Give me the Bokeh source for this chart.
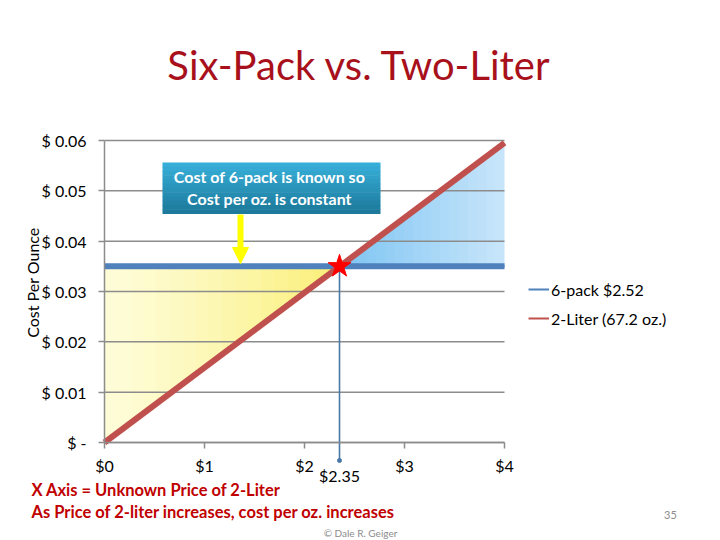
import math
from bokeh.plotting import figure
from bokeh.models import (Range1d, FixedTicker, CustomJSTickFormatter, Label,
                          BoxAnnotation, Arrow, NormalHead, Legend, LegendItem)
from bokeh.embed import file_html
from bokeh.resources import INLINE

# ---- data ----
price_range = [0, 4]                       # unknown price of 2-liter ($)
sixpack_price = 2.52
sixpack_oz = 72.0
twoliter_oz = 67.2
breakeven_label = 2.35
x_ticks = [0, 1, 2, 3, 4]
y_ticks = [0, 0.01, 0.02, 0.03, 0.04, 0.05, 0.06]

sixpack_cost = sixpack_price / sixpack_oz           # constant cost per oz
twoliter_cost = [p / twoliter_oz for p in price_range]
x_cross = sixpack_cost * twoliter_oz                 # break-even price

FONT = "Lato"
W, H = 720, 540
# plot-area placement on the canvas (pixels)
PX0, PX1 = 104, 504      # x = 0 .. 4
PY0, PY1 = 442, 140      # y = 0 .. 0.06
xpp = (x_ticks[-1] - x_ticks[0]) / (PX1 - PX0)
ypp = (y_ticks[-1] - y_ticks[0]) / (PY0 - PY1)

p = figure(width=W, height=H, output_backend="svg", toolbar_location=None,
           x_range=Range1d(x_ticks[0] - PX0 * xpp, x_ticks[0] + (W - PX0) * xpp),
           y_range=Range1d(y_ticks[0] - (H - PY0) * ypp, y_ticks[0] + PY0 * ypp),
           min_border=0)
p.outline_line_color = None
p.background_fill_color = "white"
p.border_fill_color = "white"

def sx(px):
    return px

def sy(py):
    return H - py

def blend(c1, c2, t):
    return "#%02x%02x%02x" % tuple(int(round(a + (b - a) * t)) for a, b in zip(c1, c2))

# ---- gradient-like fills ----
N = 18
ax, ay = x_cross, sixpack_cost
for i in range(N):
    s = 1.0 - i / N
    t = (i / (N - 1)) ** 1.3
    c = blend((0xfe, 0xfc, 0xd6), (0xfa, 0xef, 0x78), t)
    xs = [ax + (0 - ax) * s, ax + (0 - ax) * s, ax]
    ys = [ay + (0 - ay) * s, ay, ay]
    p.patch(xs, ys, fill_color=c, line_color=None)

x_end = price_range[1]
y_end = twoliter_cost[1]
for i in range(N):
    s = 1.0 - i / N
    t = i / (N - 1)
    c = blend((0xc6, 0xe5, 0xfa), (0x80, 0xc5, 0xf3), t)
    xs = [ax, ax + (x_end - ax) * s, ax + (x_end - ax) * s]
    ys = [ay, ay + (y_end - ay) * s, ay]
    p.patch(xs, ys, fill_color=c, line_color=None)

# ---- horizontal gridlines limited to the plot area ----
p.xgrid.grid_line_color = None
p.ygrid.grid_line_color = None
p.segment(x0=[x_ticks[0]] * len(y_ticks), y0=y_ticks,
          x1=[x_ticks[-1]] * len(y_ticks), y1=y_ticks,
          line_color="#8c8c8c", line_width=1.5)

# ---- legend proxies (hidden under the main lines) ----
leg_blue = p.line(price_range, [sixpack_cost, sixpack_cost], line_color="#4f81bd", line_width=2)
leg_red = p.line(price_range, twoliter_cost, line_color="#c0504d", line_width=2)

# ---- lines ----
p.line(price_range, [sixpack_cost, sixpack_cost], line_color="#4f81bd", line_width=6)
p.line(price_range, twoliter_cost, line_color="#c0504d", line_width=6)

# vertical pointer to break-even price
y_drop = -18 * ypp
p.segment(x0=[breakeven_label], y0=[sixpack_cost], x1=[breakeven_label], y1=[y_drop],
          line_color="#4a78a8", line_width=1.6)
p.scatter(x=[breakeven_label], y=[y_drop], size=4, color="#4a78a8")
p.scatter(x=[breakeven_label], y=[sixpack_cost], marker="star", size=24,
          fill_color="#ff0000", line_color="#ff0000")

# ---- axes ----
p.xaxis.ticker = FixedTicker(ticks=x_ticks)
p.xaxis.formatter = CustomJSTickFormatter(code="return '$' + tick.toFixed(0);")
p.yaxis.ticker = FixedTicker(ticks=y_ticks)
p.yaxis.formatter = CustomJSTickFormatter(
    code="return tick < 1e-9 ? '$ -' : '$ ' + tick.toFixed(2);")
p.xaxis.fixed_location = y_ticks[0]
p.yaxis.fixed_location = x_ticks[0]
p.xaxis.bounds = (x_ticks[0], x_ticks[-1])
p.yaxis.bounds = (y_ticks[0], y_ticks[-1])
for ax_ in (p.xaxis, p.yaxis):
    ax_.axis_line_color = "#8c8c8c"
    ax_.axis_line_width = 1.5
    ax_.major_tick_line_color = "#8c8c8c"
    ax_.major_tick_line_width = 1.5
    ax_.major_tick_out = 6
    ax_.major_tick_in = 0
    ax_.minor_tick_line_color = None
    ax_.major_label_text_font = FONT
    ax_.major_label_text_font_size = "16px"
    ax_.major_label_text_color = "#000000"
p.xaxis.major_label_standoff = 7
p.yaxis.major_label_standoff = 12

# y-axis title
p.add_layout(Label(x=sx(32), y=sy(280), x_units="screen", y_units="screen",
                   text="Cost  Per Ounce", angle=math.pi / 2, text_align="center",
                   text_baseline="middle", text_font=FONT, text_font_size="16px",
                   text_color="#000000"))

# ---- legend ----
legend = Legend(items=[LegendItem(label="6-pack $2.52", renderers=[leg_blue]),
                       LegendItem(label="2-Liter (67.2 oz.)", renderers=[leg_red])],
                location=(sx(528), sy(328)), orientation="vertical",
                glyph_width=21, glyph_height=20, label_height=20, label_standoff=2,
                spacing=9, padding=0, margin=0,
                label_text_font=FONT, label_text_font_size="16px",
                label_text_color="#000000",
                border_line_color=None, background_fill_alpha=0)
p.add_layout(legend)

# ---- callout ----
top_c = (0x37, 0xae, 0xd8)
bot_c = (0x1d, 0x7a, 0x9c)
n = 12
box_top, box_bot = 162, 213
for i in range(n):
    t = i / (n - 1)
    col = blend(top_c, bot_c, t)
    y0 = box_top + (box_bot - box_top) * i / n
    y1 = box_top + (box_bot - box_top) * (i + 1) / n
    p.add_layout(BoxAnnotation(left=sx(162), right=sx(380), top=sy(y0), bottom=sy(y1) - 0.6,
                               left_units="screen", right_units="screen",
                               top_units="screen", bottom_units="screen",
                               fill_color=col, fill_alpha=1, line_color=None))
for txt, yy in [("Cost of 6-pack is known so", 176), ("Cost per oz. is constant", 198)]:
    p.add_layout(Label(x=sx(269), y=sy(yy), x_units="screen", y_units="screen", text=txt,
                       text_align="center", text_baseline="middle", text_font=FONT,
                       text_font_style="bold", text_font_size="16px",
                       text_color="#ffffff"))

p.add_layout(Arrow(end=NormalHead(size=16, fill_color="#ffff00", line_color="#ffff00"),
                   x_start=sx(240), y_start=sy(214), x_end=sx(240), y_end=sy(263),
                   start_units="screen", end_units="screen",
                   line_color="#ffff00", line_width=6))

# ---- texts ----
p.add_layout(Label(x=sx(359), y=sy(64), x_units="screen", y_units="screen",
                   text="Six-Pack vs. Two-Liter", text_align="center",
                   text_baseline="middle", text_font=FONT, text_font_size="40px",
                   text_color="#a8111c"))
p.add_layout(Label(x=breakeven_label, y=sy(475), x_units="data", y_units="screen",
                   text="$%.2f" % breakeven_label, text_align="center",
                   text_baseline="middle", text_font=FONT, text_font_size="16px",
                   text_color="#000000"))
for txt, yy in [("X Axis = Unknown Price of 2-Liter", 489),
                ("As Price of 2-liter increases, cost per oz. increases", 511)]:
    p.add_layout(Label(x=sx(31), y=sy(yy), x_units="screen", y_units="screen", text=txt,
                       text_align="left", text_baseline="middle", text_font=FONT,
                       text_font_style="bold", text_font_size="16.5px",
                       text_color="#c00000"))
p.add_layout(Label(x=sx(360), y=sy(532), x_units="screen", y_units="screen",
                   text="\u00a9 Dale R. Geiger", text_align="center",
                   text_baseline="middle", text_font=FONT, text_font_size="10px",
                   text_color="#8c8c8c"))
p.add_layout(Label(x=sx(670), y=sy(514), x_units="screen", y_units="screen",
                   text="35", text_align="center", text_baseline="middle",
                   text_font=FONT, text_font_size="11px", text_color="#8c8c8c"))

open("out.html", "w").write(file_html(p, INLINE))
